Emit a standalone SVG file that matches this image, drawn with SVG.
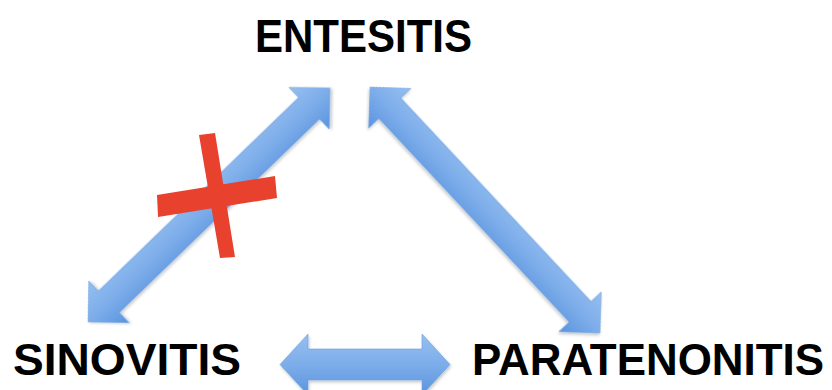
<svg xmlns="http://www.w3.org/2000/svg" width="832" height="390" viewBox="0 0 832 390">
<defs>
<linearGradient id="blue" x1="0" y1="0" x2="0" y2="1">
<stop offset="0" stop-color="#96BFF0"/>
<stop offset="0.5" stop-color="#7DADEA"/>
<stop offset="1" stop-color="#5A94DE"/>
</linearGradient>
<filter id="sh" x="-10%" y="-10%" width="120%" height="120%">
<feDropShadow dx="1" dy="2" stdDeviation="1.5" flood-color="#000" flood-opacity="0.22"/>
</filter>
<style>
.lbl{font-family:"Liberation Sans",Arial,sans-serif;font-weight:bold;fill:#000;}
.arr{fill:url(#blue);stroke:#6A9FDF;stroke-width:0.6;filter:url(#sh);}
.x{fill:#E8412E;}
</style>
</defs>
<rect width="832" height="390" fill="#fff"/>
<g id="connectors">
<g id="arrow-sinovitis-entesitis" transform="translate(88,322) rotate(-44.04)">
<polygon class="arr" points="0,0 29,-29 29,-15 307.6,-15 307.6,-29 336.6,0 307.6,29 307.6,15 29,15 29,29"/>
</g>
<g id="arrow-entesitis-paratenonitis" transform="translate(370,87) rotate(46.93)">
<polygon class="arr" points="0,0 29,-29 29,-15 307.8,-15 307.8,-29 336.8,0 307.8,29 307.8,15 29,15 29,29"/>
</g>
<g id="arrow-sinovitis-paratenonitis" transform="translate(280,364.5)">
<polygon class="arr" points="0,0 28,-30.5 28,-15.5 142,-15.5 142,-30.5 170,0 142,30.5 142,15.5 28,15.5 28,30.5"/>
</g>
<g id="cross">
<polygon class="x" points="199,135 215,133 235,257 220,258"/>
<polygon class="x" points="157,195 275,176 277,198 158,217"/>
</g>
</g>
<g id="node-entesitis">
<text class="lbl" x="255" y="52" font-size="46" textLength="217" lengthAdjust="spacingAndGlyphs">ENTESITIS</text>
</g>
<g id="node-sinovitis">
<text class="lbl" x="13" y="375" font-size="44" textLength="228" lengthAdjust="spacingAndGlyphs">SINOVITIS</text>
</g>
<g id="node-paratenonitis">
<text class="lbl" x="472" y="375" font-size="44" textLength="352" lengthAdjust="spacingAndGlyphs">PARATENONITIS</text>
</g>
</svg>
